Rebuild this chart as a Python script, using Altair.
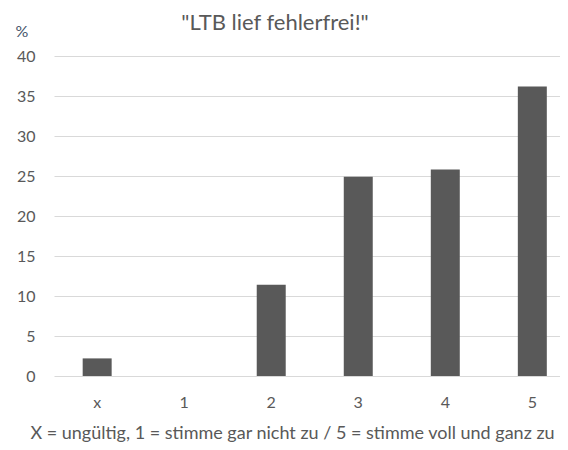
import altair as alt
import pandas as pd

categories = ["x", "1", "2", "3", "4", "5"]
values = [2.2, 0.0, 11.4, 24.9, 25.8, 36.2]
y_ticks = [0, 5, 10, 15, 20, 25, 30, 35, 40]

df = pd.DataFrame({"cat": categories, "pct": values})

FONT = "Lato"
GRAY = "#595959"

chart = alt.Chart(df).mark_bar(color=GRAY).encode(
    x=alt.X(
        "cat:N",
        sort=categories,
        scale=alt.Scale(paddingInner=0.667, paddingOuter=0.2405, align=0.685),
        axis=alt.Axis(
            title="X = ungültig, 1 = stimme gar nicht zu / 5 = stimme voll und ganz zu",
            titleFont=FONT, titleFontSize=18, titleFontWeight="normal", titleColor=GRAY,
            titleX=238, titleY=62, titleAlign="center", titleBaseline="alphabetic",
            labelAngle=0, labelFont=FONT, labelFontSize=16, labelColor=GRAY,
            labelBaseline="alphabetic", labelPadding=31,
            ticks=False, tickSize=0, domain=False, grid=False,
        ),
    ),
    y=alt.Y(
        "pct:Q",
        scale=alt.Scale(domain=[0, 40], nice=False),
        axis=alt.Axis(
            values=y_ticks,
            title="%", titleAngle=0, titleAlign="left", titleBaseline="alphabetic",
            titleX=-39, titleY=-20, titleFont=FONT, titleFontSize=16,
            titleFontWeight="normal", titleColor="#44546A",
            labelFont=FONT, labelFontSize=16, labelColor=GRAY, labelPadding=19,
            ticks=False, tickSize=0, domain=False,
            grid=True, gridColor="#d9d9d9", gridWidth=1,
        ),
    ),
).properties(
    width=506,
    height=320,
    title=alt.TitleParams(
        text='"LTB lief fehlerfrei!"', font=FONT, fontSize=22, fontWeight="normal",
        color=GRAY, anchor="middle", dx=-32, baseline="alphabetic", offset=-29,
    ),
    autosize=alt.AutoSizeParams(type="none"),
    padding={"left": 46, "top": 48, "right": 0, "bottom": 66},
).configure_view(stroke=None)

chart.save("out.html", embed_options={"renderer": "svg", "actions": False})
